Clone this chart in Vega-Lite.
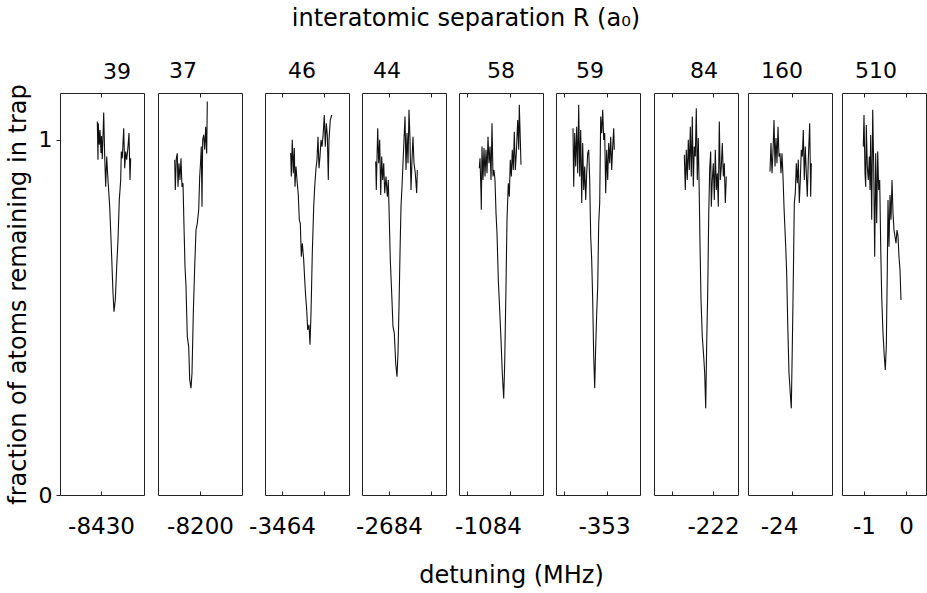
{
"$schema": "https://vega.github.io/schema/vega-lite/v6.json",
"padding": {"left": 5, "right": 0, "top": 7, "bottom": 5},
"background": "white",
"title": {"text": "interatomic separation R (a₀)", "fontSize": 24, "font": "DejaVu Sans", "fontWeight": "normal", "color": "#000", "anchor": "middle", "offset": 28},
"config": {
  "view": {"stroke": "#222", "strokeWidth": 1},
  "title": {"font": "DejaVu Sans", "fontWeight": "normal", "color": "#000", "fontSize": 22, "offset": 10},
  "axis": {"grid": false, "domain": false, "tickSize": -4, "tickColor": "#222", "tickWidth": 1,
           "labelFont": "DejaVu Sans", "labelFontSize": 23, "labelColor": "#000", "labelFlush": false, "labelOverlap": false, "labelBound": false, "labelPadding": 24,
           "titleFont": "DejaVu Sans", "titleFontSize": 24, "titleFontWeight": "normal", "titleColor": "#000"}
},
"data": {"values": [
{"p":1,"x":37.3,"y":1.052},{"p":1,"x":38.0,"y":0.944},{"p":1,"x":38.3,"y":1.047},{"p":1,"x":39.3,"y":0.986},{"p":1,"x":40.0,"y":1.028},{"p":1,"x":41.0,"y":0.963},{"p":1,"x":41.5,"y":1.011},{"p":1,"x":42.3,"y":0.946},{"p":1,"x":43.7,"y":1.077},{"p":1,"x":44.7,"y":0.953},{"p":1,"x":45.7,"y":0.868},{"p":1,"x":46.7,"y":0.953},{"p":1,"x":48.0,"y":0.887},{"p":1,"x":49.7,"y":0.812},{"p":1,"x":51.3,"y":0.699},{"p":1,"x":53.0,"y":0.569},{"p":1,"x":54.0,"y":0.516},{"p":1,"x":55.3,"y":0.549},{"p":1,"x":56.7,"y":0.643},{"p":1,"x":58.0,"y":0.718},{"p":1,"x":59.3,"y":0.831},{"p":1,"x":60.7,"y":0.887},{"p":1,"x":61.3,"y":0.967},{"p":1,"x":62.3,"y":0.948},{"p":1,"x":63.7,"y":1.033},{"p":1,"x":64.7,"y":0.920},{"p":1,"x":65.7,"y":0.967},{"p":1,"x":66.7,"y":0.944},{"p":1,"x":68.0,"y":0.981},{"p":1,"x":69.0,"y":1.019},{"p":1,"x":70.0,"y":0.887},{"p":1,"x":70.7,"y":0.948},
{"p":2,"x":16.7,"y":0.944},{"p":2,"x":17.3,"y":0.859},{"p":2,"x":18.3,"y":0.948},{"p":2,"x":19.3,"y":0.962},{"p":2,"x":20.0,"y":0.868},{"p":2,"x":21.0,"y":0.934},{"p":2,"x":22.0,"y":0.887},{"p":2,"x":23.0,"y":0.948},{"p":2,"x":24.0,"y":0.868},{"p":2,"x":25.0,"y":0.878},{"p":2,"x":26.0,"y":0.756},{"p":2,"x":27.0,"y":0.643},{"p":2,"x":28.0,"y":0.587},{"p":2,"x":29.3,"y":0.446},{"p":2,"x":30.7,"y":0.418},{"p":2,"x":31.7,"y":0.324},{"p":2,"x":33.0,"y":0.301},{"p":2,"x":34.0,"y":0.343},{"p":2,"x":35.3,"y":0.512},{"p":2,"x":36.7,"y":0.643},{"p":2,"x":38.0,"y":0.746},{"p":2,"x":39.3,"y":0.765},{"p":2,"x":40.7,"y":0.803},{"p":2,"x":41.7,"y":0.897},{"p":2,"x":42.7,"y":0.944},{"p":2,"x":43.3,"y":0.981},{"p":2,"x":44.0,"y":0.812},{"p":2,"x":44.7,"y":1.0},{"p":2,"x":45.7,"y":1.014},{"p":2,"x":46.7,"y":0.972},{"p":2,"x":47.7,"y":1.037},{"p":2,"x":48.7,"y":0.962},{"p":2,"x":49.3,"y":1.108},
{"p":3,"x":25.7,"y":0.963},{"p":3,"x":26.3,"y":0.897},{"p":3,"x":27.3,"y":1.0},{"p":3,"x":28.3,"y":0.906},{"p":3,"x":29.3,"y":0.977},{"p":3,"x":30.0,"y":0.868},{"p":3,"x":31.0,"y":0.925},{"p":3,"x":32.0,"y":0.887},{"p":3,"x":33.3,"y":0.845},{"p":3,"x":34.3,"y":0.775},{"p":3,"x":35.3,"y":0.765},{"p":3,"x":36.3,"y":0.671},{"p":3,"x":37.3,"y":0.709},{"p":3,"x":38.7,"y":0.662},{"p":3,"x":39.7,"y":0.606},{"p":3,"x":40.7,"y":0.559},{"p":3,"x":41.7,"y":0.521},{"p":3,"x":42.7,"y":0.465},{"p":3,"x":44.0,"y":0.479},{"p":3,"x":45.0,"y":0.423},{"p":3,"x":46.0,"y":0.512},{"p":3,"x":47.3,"y":0.681},{"p":3,"x":48.7,"y":0.812},{"p":3,"x":49.7,"y":0.868},{"p":3,"x":51.0,"y":0.920},{"p":3,"x":52.0,"y":0.944},{"p":3,"x":53.0,"y":1.009},{"p":3,"x":54.0,"y":0.920},{"p":3,"x":55.0,"y":0.953},{"p":3,"x":56.0,"y":1.0},{"p":3,"x":57.0,"y":0.981},{"p":3,"x":58.0,"y":1.009},{"p":3,"x":59.3,"y":1.070},{"p":3,"x":60.3,"y":0.981},{"p":3,"x":61.3,"y":1.047},{"p":3,"x":62.3,"y":1.014},{"p":3,"x":63.3,"y":0.887},{"p":3,"x":64.0,"y":1.0},{"p":3,"x":65.3,"y":1.056},{"p":3,"x":66.7,"y":1.070},
{"p":4,"x":13.7,"y":0.939},{"p":4,"x":14.3,"y":0.859},{"p":4,"x":15.7,"y":1.033},{"p":4,"x":16.7,"y":0.934},{"p":4,"x":17.7,"y":1.0},{"p":4,"x":18.7,"y":0.845},{"p":4,"x":19.7,"y":0.953},{"p":4,"x":20.7,"y":0.887},{"p":4,"x":21.7,"y":0.934},{"p":4,"x":22.7,"y":0.850},{"p":4,"x":24.0,"y":0.897},{"p":4,"x":25.3,"y":0.840},{"p":4,"x":26.3,"y":0.887},{"p":4,"x":27.3,"y":0.775},{"p":4,"x":28.3,"y":0.662},{"p":4,"x":29.7,"y":0.568},{"p":4,"x":31.0,"y":0.474},{"p":4,"x":32.3,"y":0.456},{"p":4,"x":33.7,"y":0.371},{"p":4,"x":35.0,"y":0.333},{"p":4,"x":36.0,"y":0.399},{"p":4,"x":37.0,"y":0.530},{"p":4,"x":38.0,"y":0.681},{"p":4,"x":39.0,"y":0.812},{"p":4,"x":40.0,"y":0.868},{"p":4,"x":41.0,"y":0.934},{"p":4,"x":42.0,"y":1.0},{"p":4,"x":43.0,"y":1.066},{"p":4,"x":44.0,"y":0.915},{"p":4,"x":45.0,"y":1.019},{"p":4,"x":46.0,"y":0.934},{"p":4,"x":47.0,"y":1.085},{"p":4,"x":48.0,"y":1.0},{"p":4,"x":49.0,"y":0.859},{"p":4,"x":50.0,"y":0.944},{"p":4,"x":51.0,"y":1.009},{"p":4,"x":52.0,"y":0.934},{"p":4,"x":53.3,"y":0.906},{"p":4,"x":54.7,"y":0.850},{"p":4,"x":55.3,"y":0.915},
{"p":5,"x":20.3,"y":0.920},{"p":5,"x":21.0,"y":0.948},{"p":5,"x":22.0,"y":0.850},{"p":5,"x":22.3,"y":0.803},{"p":5,"x":23.0,"y":0.981},{"p":5,"x":24.0,"y":0.887},{"p":5,"x":25.0,"y":0.977},{"p":5,"x":26.0,"y":0.897},{"p":5,"x":27.0,"y":0.972},{"p":5,"x":28.0,"y":0.906},{"p":5,"x":29.0,"y":1.009},{"p":5,"x":30.0,"y":0.934},{"p":5,"x":31.0,"y":0.981},{"p":5,"x":32.0,"y":0.887},{"p":5,"x":33.0,"y":1.047},{"p":5,"x":34.0,"y":0.897},{"p":5,"x":35.0,"y":0.915},{"p":5,"x":36.0,"y":0.887},{"p":5,"x":37.0,"y":0.794},{"p":5,"x":38.0,"y":0.737},{"p":5,"x":39.3,"y":0.606},{"p":5,"x":40.7,"y":0.521},{"p":5,"x":42.0,"y":0.437},{"p":5,"x":43.3,"y":0.343},{"p":5,"x":44.7,"y":0.272},{"p":5,"x":45.7,"y":0.371},{"p":5,"x":47.0,"y":0.587},{"p":5,"x":48.0,"y":0.775},{"p":5,"x":49.3,"y":0.878},{"p":5,"x":50.3,"y":0.840},{"p":5,"x":51.3,"y":0.944},{"p":5,"x":52.3,"y":0.897},{"p":5,"x":53.3,"y":0.972},{"p":5,"x":54.3,"y":0.915},{"p":5,"x":55.3,"y":1.023},{"p":5,"x":56.3,"y":0.915},{"p":5,"x":57.3,"y":0.962},{"p":5,"x":58.7,"y":1.056},{"p":5,"x":59.7,"y":0.972},{"p":5,"x":60.3,"y":1.099},{"p":5,"x":61.3,"y":1.0},{"p":5,"x":62.0,"y":0.930},
{"p":6,"x":17.0,"y":1.033},{"p":6,"x":17.7,"y":0.868},{"p":6,"x":18.7,"y":1.019},{"p":6,"x":19.7,"y":0.925},{"p":6,"x":20.7,"y":1.037},{"p":6,"x":21.7,"y":0.906},{"p":6,"x":22.7,"y":1.099},{"p":6,"x":23.7,"y":0.897},{"p":6,"x":24.7,"y":1.028},{"p":6,"x":25.7,"y":0.822},{"p":6,"x":26.7,"y":0.991},{"p":6,"x":27.7,"y":0.859},{"p":6,"x":28.7,"y":0.925},{"p":6,"x":29.7,"y":0.831},{"p":6,"x":30.7,"y":0.906},{"p":6,"x":31.7,"y":0.962},{"p":6,"x":32.7,"y":0.972},{"p":6,"x":33.7,"y":0.887},{"p":6,"x":34.7,"y":0.728},{"p":6,"x":35.7,"y":0.662},{"p":6,"x":36.7,"y":0.549},{"p":6,"x":37.7,"y":0.390},{"p":6,"x":38.7,"y":0.301},{"p":6,"x":39.7,"y":0.418},{"p":6,"x":40.7,"y":0.512},{"p":6,"x":41.7,"y":0.587},{"p":6,"x":42.7,"y":0.765},{"p":6,"x":43.7,"y":0.822},{"p":6,"x":44.7,"y":1.066},{"p":6,"x":45.7,"y":1.019},{"p":6,"x":46.7,"y":1.085},{"p":6,"x":47.7,"y":1.0},{"p":6,"x":48.7,"y":1.019},{"p":6,"x":49.7,"y":0.850},{"p":6,"x":50.7,"y":0.972},{"p":6,"x":51.7,"y":0.887},{"p":6,"x":52.7,"y":0.991},{"p":6,"x":53.7,"y":0.934},{"p":6,"x":54.7,"y":1.009},{"p":6,"x":55.7,"y":0.915},{"p":6,"x":56.7,"y":0.981},{"p":6,"x":57.7,"y":1.033},{"p":6,"x":58.3,"y":0.972},
{"p":7,"x":30.3,"y":0.958},{"p":7,"x":31.3,"y":0.859},{"p":7,"x":32.3,"y":0.972},{"p":7,"x":33.3,"y":0.887},{"p":7,"x":34.3,"y":1.0},{"p":7,"x":35.3,"y":0.915},{"p":7,"x":36.3,"y":1.037},{"p":7,"x":37.3,"y":0.897},{"p":7,"x":38.3,"y":1.066},{"p":7,"x":39.3,"y":0.868},{"p":7,"x":40.3,"y":0.981},{"p":7,"x":41.3,"y":0.953},{"p":7,"x":42.3,"y":1.089},{"p":7,"x":43.3,"y":0.887},{"p":7,"x":44.3,"y":1.005},{"p":7,"x":45.3,"y":0.840},{"p":7,"x":46.0,"y":0.709},{"p":7,"x":47.0,"y":0.549},{"p":7,"x":48.3,"y":0.446},{"p":7,"x":49.7,"y":0.390},{"p":7,"x":50.7,"y":0.343},{"p":7,"x":51.7,"y":0.244},{"p":7,"x":52.7,"y":0.427},{"p":7,"x":53.7,"y":0.568},{"p":7,"x":54.7,"y":0.784},{"p":7,"x":55.7,"y":0.920},{"p":7,"x":56.7,"y":0.967},{"p":7,"x":57.3,"y":0.812},{"p":7,"x":58.3,"y":0.887},{"p":7,"x":59.3,"y":0.934},{"p":7,"x":60.3,"y":0.831},{"p":7,"x":61.3,"y":0.972},{"p":7,"x":62.3,"y":0.859},{"p":7,"x":63.3,"y":0.906},{"p":7,"x":64.3,"y":0.812},{"p":7,"x":65.3,"y":1.052},{"p":7,"x":66.3,"y":0.887},{"p":7,"x":67.3,"y":0.925},{"p":7,"x":68.3,"y":0.991},{"p":7,"x":69.3,"y":0.897},{"p":7,"x":70.3,"y":0.934},{"p":7,"x":71.3,"y":0.822},{"p":7,"x":72.3,"y":0.897},
{"p":8,"x":22.0,"y":0.911},{"p":8,"x":23.0,"y":0.991},{"p":8,"x":24.0,"y":0.906},{"p":8,"x":25.0,"y":0.967},{"p":8,"x":26.0,"y":1.056},{"p":8,"x":27.0,"y":0.925},{"p":8,"x":28.0,"y":1.005},{"p":8,"x":29.0,"y":0.934},{"p":8,"x":30.0,"y":1.037},{"p":8,"x":31.0,"y":0.953},{"p":8,"x":32.0,"y":0.962},{"p":8,"x":33.0,"y":0.906},{"p":8,"x":34.0,"y":0.962},{"p":8,"x":35.0,"y":0.897},{"p":8,"x":36.0,"y":0.812},{"p":8,"x":36.7,"y":0.765},{"p":8,"x":37.7,"y":0.699},{"p":8,"x":38.7,"y":0.624},{"p":8,"x":39.7,"y":0.484},{"p":8,"x":41.0,"y":0.343},{"p":8,"x":42.3,"y":0.286},{"p":8,"x":43.3,"y":0.244},{"p":8,"x":44.3,"y":0.418},{"p":8,"x":45.3,"y":0.606},{"p":8,"x":46.3,"y":0.822},{"p":8,"x":47.3,"y":0.850},{"p":8,"x":48.3,"y":0.934},{"p":8,"x":49.3,"y":0.878},{"p":8,"x":50.3,"y":0.944},{"p":8,"x":51.3,"y":0.822},{"p":8,"x":52.3,"y":0.887},{"p":8,"x":53.3,"y":0.972},{"p":8,"x":54.3,"y":0.953},{"p":8,"x":55.3,"y":1.028},{"p":8,"x":56.3,"y":0.887},{"p":8,"x":57.3,"y":0.981},{"p":8,"x":58.3,"y":0.906},{"p":8,"x":59.3,"y":0.840},{"p":8,"x":60.3,"y":0.944},{"p":8,"x":61.7,"y":1.047},{"p":8,"x":62.7,"y":0.840},{"p":8,"x":63.3,"y":0.934},
{"p":9,"x":21.3,"y":0.981},{"p":9,"x":22.0,"y":1.070},{"p":9,"x":23.0,"y":0.906},{"p":9,"x":23.7,"y":0.868},{"p":9,"x":24.3,"y":1.042},{"p":9,"x":25.3,"y":0.925},{"p":9,"x":26.3,"y":0.887},{"p":9,"x":27.3,"y":0.953},{"p":9,"x":28.0,"y":0.859},{"p":9,"x":28.7,"y":1.014},{"p":9,"x":29.7,"y":0.775},{"p":9,"x":30.7,"y":1.085},{"p":9,"x":31.7,"y":0.925},{"p":9,"x":32.7,"y":0.671},{"p":9,"x":33.7,"y":0.962},{"p":9,"x":34.7,"y":0.765},{"p":9,"x":35.7,"y":0.967},{"p":9,"x":36.7,"y":0.859},{"p":9,"x":37.7,"y":0.887},{"p":9,"x":38.7,"y":0.699},{"p":9,"x":39.7,"y":0.559},{"p":9,"x":41.0,"y":0.456},{"p":9,"x":42.3,"y":0.390},{"p":9,"x":43.3,"y":0.352},{"p":9,"x":44.3,"y":0.418},{"p":9,"x":45.3,"y":0.634},{"p":9,"x":46.0,"y":0.831},{"p":9,"x":47.0,"y":0.699},{"p":9,"x":48.0,"y":0.845},{"p":9,"x":49.0,"y":0.775},{"p":9,"x":50.0,"y":0.887},{"p":9,"x":51.0,"y":0.794},{"p":9,"x":52.0,"y":0.746},{"p":9,"x":53.0,"y":0.728},{"p":9,"x":54.0,"y":0.709},{"p":9,"x":55.0,"y":0.746},{"p":9,"x":56.0,"y":0.728},{"p":9,"x":57.0,"y":0.671},{"p":9,"x":58.0,"y":0.634},{"p":9,"x":59.0,"y":0.549}
]},
"spacing": 5,
"hconcat": [
{"bounds": "flush", "spacing": 14, "hconcat": [
 {"width": 84, "height": 402, "title": {"text": "39", "dx": 15, "dy": 10},
  "transform": [{"filter": "datum.p == 1"}],
  "encoding": {"y": {"field": "y", "type": "quantitative", "scale": {"domain": [0, 1.132], "nice": false, "zero": false},
     "axis": {"values": [0, 1], "format": ".0f", "tickSize": 4, "labelFontSize": 22, "labelPadding": 4, "title": "fraction of atoms remaining in trap", "titlePadding": 8}}},
  "layer": [
   {"mark": {"type": "line", "color": "#111", "strokeWidth": 1.1},
    "encoding": {"x": {"field": "x", "type": "quantitative", "scale": {"domain": [0, 84], "nice": false, "zero": false}, "axis": {"values": [41], "labelExpr": "'-8430'", "title": null}}}},
   {"mark": {"type": "line", "opacity": 0},
    "encoding": {"x": {"field": "x", "type": "quantitative", "axis": {"orient": "top", "values": [41], "labels": false, "title": null}}}}
  ],
  "resolve": {"axis": {"x": "independent"}}},
 {"width": 84, "height": 402, "title": {"text": "37", "dx": -17},
  "transform": [{"filter": "datum.p == 2"}],
  "encoding": {"y": {"field": "y", "type": "quantitative", "scale": {"domain": [0, 1.132], "nice": false, "zero": false}, "axis": null}},
  "layer": [
   {"mark": {"type": "line", "color": "#111", "strokeWidth": 1.1},
    "encoding": {"x": {"field": "x", "type": "quantitative", "scale": {"domain": [0, 84], "nice": false, "zero": false}, "axis": {"values": [42], "labelExpr": "'-8200'", "title": null}}}},
   {"mark": {"type": "line", "opacity": 0},
    "encoding": {"x": {"field": "x", "type": "quantitative", "axis": {"orient": "top", "values": [42], "labels": false, "title": null}}}}
  ],
  "resolve": {"axis": {"x": "independent"}}}
]},
{"spacing": 12, "hconcat": [
{"bounds": "flush", "spacing": 13, "hconcat": [
 {"width": 84, "height": 402, "title": {"text": "46", "dx": -5},
  "transform": [{"filter": "datum.p == 3"}],
  "encoding": {"y": {"field": "y", "type": "quantitative", "scale": {"domain": [0, 1.132], "nice": false, "zero": false}, "axis": null}},
  "layer": [
   {"mark": {"type": "line", "color": "#111", "strokeWidth": 1.1},
    "encoding": {"x": {"field": "x", "type": "quantitative", "scale": {"domain": [0, 84], "nice": false, "zero": false}, "axis": {"values": [17, 59], "labelExpr": "datum.value == 17 ? '-3464' : ''", "title": null}}}},
   {"mark": {"type": "line", "opacity": 0},
    "encoding": {"x": {"field": "x", "type": "quantitative", "axis": {"orient": "top", "values": [17, 59], "labels": false, "title": null}}}}
  ],
  "resolve": {"axis": {"x": "independent"}}},
 {"width": 84, "height": 402, "title": {"text": "44", "dx": -17},
  "transform": [{"filter": "datum.p == 4"}],
  "encoding": {"y": {"field": "y", "type": "quantitative", "scale": {"domain": [0, 1.132], "nice": false, "zero": false}, "axis": null}},
  "layer": [
   {"mark": {"type": "line", "color": "#111", "strokeWidth": 1.1},
    "encoding": {"x": {"field": "x", "type": "quantitative", "scale": {"domain": [0, 84], "nice": false, "zero": false}, "axis": {"values": [27, 69], "labelExpr": "datum.value == 27 ? '-2684' : ''", "title": null}}}},
   {"mark": {"type": "line", "opacity": 0},
    "encoding": {"x": {"field": "x", "type": "quantitative", "axis": {"orient": "top", "values": [27, 69], "labels": false, "title": null}}}}
  ],
  "resolve": {"axis": {"x": "independent"}}},
 {"width": 84, "height": 402, "title": {"text": "58", "dx": 0},
  "transform": [{"filter": "datum.p == 5"}],
  "encoding": {"y": {"field": "y", "type": "quantitative", "scale": {"domain": [0, 1.132], "nice": false, "zero": false}, "axis": null}},
  "layer": [
   {"mark": {"type": "line", "color": "#111", "strokeWidth": 1.1},
    "encoding": {"x": {"field": "x", "type": "quantitative", "scale": {"domain": [0, 84], "nice": false, "zero": false}, "axis": {"values": [8, 51], "labelExpr": "datum.value == 8 ? '-1084' : ''", "labelOffset": 21, "title": "detuning (MHz)", "titlePadding": 25, "titleX": 52}}}},
   {"mark": {"type": "line", "opacity": 0},
    "encoding": {"x": {"field": "x", "type": "quantitative", "axis": {"orient": "top", "values": [8, 51], "labels": false, "title": null}}}}
  ],
  "resolve": {"axis": {"x": "independent"}}},
 {"width": 84, "height": 402, "title": {"text": "59", "dx": -8},
  "transform": [{"filter": "datum.p == 6"}],
  "encoding": {"y": {"field": "y", "type": "quantitative", "scale": {"domain": [0, 1.132], "nice": false, "zero": false}, "axis": null}},
  "layer": [
   {"mark": {"type": "line", "color": "#111", "strokeWidth": 1.1},
    "encoding": {"x": {"field": "x", "type": "quantitative", "scale": {"domain": [0, 84], "nice": false, "zero": false}, "axis": {"values": [8, 51], "labelExpr": "datum.value == 51 ? '-353' : ''", "labelOffset": -3, "title": null}}}},
   {"mark": {"type": "line", "opacity": 0},
    "encoding": {"x": {"field": "x", "type": "quantitative", "axis": {"orient": "top", "values": [8, 51], "labels": false, "title": null}}}}
  ],
  "resolve": {"axis": {"x": "independent"}}}
]},
{"bounds": "flush", "spacing": 10, "hconcat": [
 {"width": 84, "height": 402, "title": {"text": "84", "dx": 8},
  "transform": [{"filter": "datum.p == 7"}],
  "encoding": {"y": {"field": "y", "type": "quantitative", "scale": {"domain": [0, 1.132], "nice": false, "zero": false}, "axis": null}},
  "layer": [
   {"mark": {"type": "line", "color": "#111", "strokeWidth": 1.1},
    "encoding": {"x": {"field": "x", "type": "quantitative", "scale": {"domain": [0, 84], "nice": false, "zero": false}, "axis": {"values": [18, 59], "labelExpr": "datum.value == 59 ? '-222' : ''", "title": null}}}},
   {"mark": {"type": "line", "opacity": 0},
    "encoding": {"x": {"field": "x", "type": "quantitative", "axis": {"orient": "top", "values": [18, 59], "labels": false, "title": null}}}}
  ],
  "resolve": {"axis": {"x": "independent"}}},
 {"width": 84, "height": 402, "title": {"text": "160", "dx": -8},
  "transform": [{"filter": "datum.p == 8"}],
  "encoding": {"y": {"field": "y", "type": "quantitative", "scale": {"domain": [0, 1.132], "nice": false, "zero": false}, "axis": null}},
  "layer": [
   {"mark": {"type": "line", "color": "#111", "strokeWidth": 1.1},
    "encoding": {"x": {"field": "x", "type": "quantitative", "scale": {"domain": [0, 84], "nice": false, "zero": false}, "axis": {"values": [44], "labelExpr": "'-24'", "labelOffset": -13, "title": null}}}},
   {"mark": {"type": "line", "opacity": 0},
    "encoding": {"x": {"field": "x", "type": "quantitative", "axis": {"orient": "top", "values": [44], "labels": false, "title": null}}}}
  ],
  "resolve": {"axis": {"x": "independent"}}},
 {"width": 84, "height": 402, "title": {"text": "510", "dx": -8},
  "transform": [{"filter": "datum.p == 9"}],
  "encoding": {"y": {"field": "y", "type": "quantitative", "scale": {"domain": [0, 1.132], "nice": false, "zero": false}, "axis": null}},
  "layer": [
   {"mark": {"type": "line", "color": "#111", "strokeWidth": 1.1},
    "encoding": {"x": {"field": "x", "type": "quantitative", "scale": {"domain": [0, 84], "nice": false, "zero": false}, "axis": {"values": [22, 64], "labelExpr": "datum.value == 22 ? '-1' : '0'", "title": null}}}},
   {"mark": {"type": "line", "opacity": 0},
    "encoding": {"x": {"field": "x", "type": "quantitative", "axis": {"orient": "top", "values": [22, 64], "labels": false, "title": null}}}}
  ],
  "resolve": {"axis": {"x": "independent"}}}
]}
]}
]
}
